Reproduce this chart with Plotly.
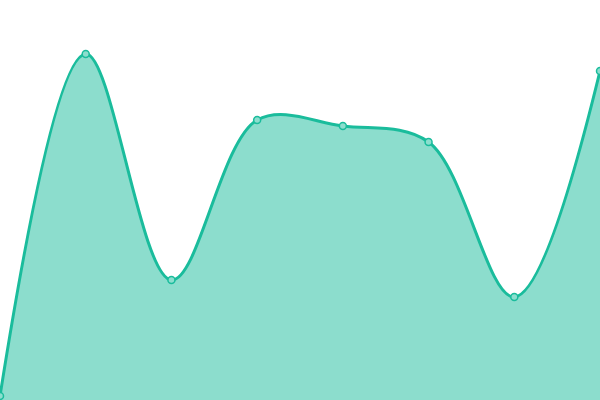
import plotly.graph_objects as go

x_idx = [0, 1, 2, 3, 4, 5, 6, 7]
values = [4, 346, 120, 280, 274, 258, 103, 329]

fig = go.Figure()

fig.add_trace(go.Scatter(
    x=x_idx,
    y=values,
    mode='lines+markers',
    line=dict(color='#1abc9c', width=3, shape='spline', smoothing=1),
    fill='tozeroy',
    fillcolor='rgba(26, 188, 156, 0.5)',
    marker=dict(size=7, color='#8cdece', line=dict(color='#1abc9c', width=1.5)),
    cliponaxis=False,
    hoverinfo='skip'
))

fig.update_layout(
    width=600,
    height=400,
    margin=dict(l=0, r=0, t=0, b=0),
    xaxis=dict(visible=False, range=[0, 7], fixedrange=True),
    yaxis=dict(visible=False, range=[0, 400], fixedrange=True),
    plot_bgcolor='white',
    paper_bgcolor='white',
    showlegend=False
)

# drop the browser's default page margin so the chart fills the window
fig.write_html(
    "out.html",
    config={'displayModeBar': False},
    post_script="document.body.style.margin='0';document.body.style.overflow='hidden';"
)
